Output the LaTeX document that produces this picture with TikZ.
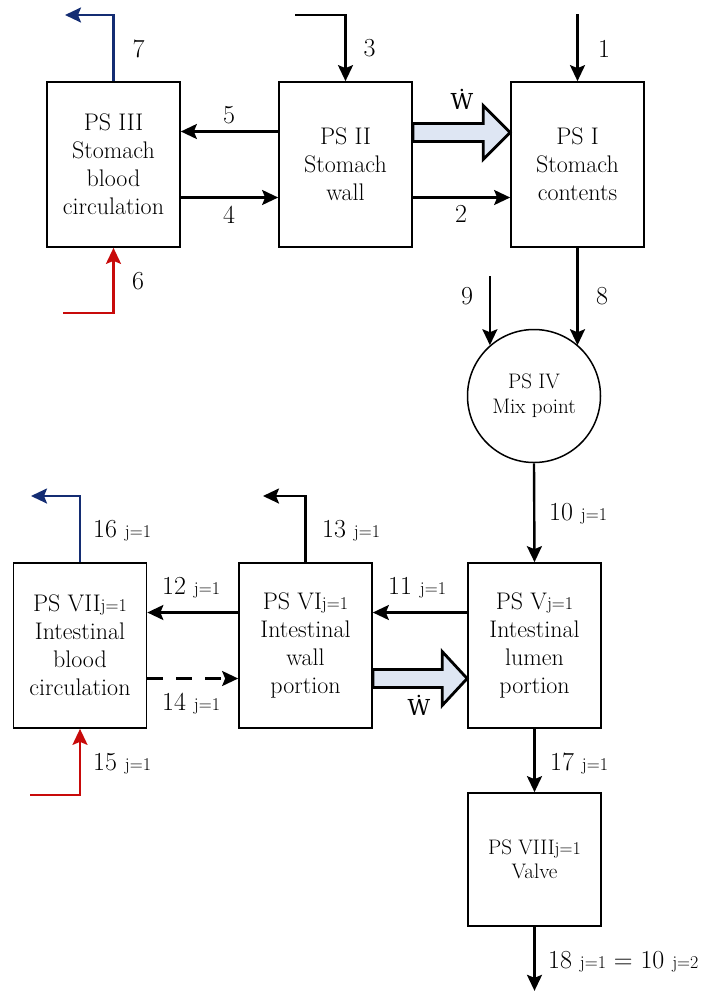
\documentclass[tikz,border=0pt]{standalone}
\usepackage{xcolor}
\usepackage{fontspec}
\newfontfamily\wfont{DejaVu Serif}
\definecolor{psblue}{RGB}{20,45,115}
\definecolor{psred}{RGB}{200,10,10}
\definecolor{psfill}{RGB}{222,230,243}
\usetikzlibrary{arrows.meta,positioning,calc}
\newcommand{\jidx}[1]{{\fontsize{18}{18}\selectfont j=#1}}

\begin{document}
\begin{tikzpicture}[x=1pt, y=-1pt,
    psbox/.style={draw, line width=1.7pt, minimum width=133pt, minimum height=165pt,
                inner sep=0pt, align=center, font=\fontsize{24}{28}\selectfont},
    mixnode/.style={draw, circle, line width=1.5pt, minimum size=133pt, inner sep=0pt,
                align=center, font=\fontsize{21}{25}\selectfont},
    num/.style={inner sep=0pt, font=\fontsize{26}{30}\selectfont},
    arr/.style={-{Stealth[length=16pt, width=15pt, inset=3pt]}, line width=2.4pt},
    workarr/.style={draw, line width=2.8pt, fill=psfill, line join=miter}
  ]
    \useasboundingbox (0,0) rectangle (714,991);

    % Stomach subsystems
    \node[psbox] (ps3) at (113.5,164.5) {PS III\\Stomach\\blood\\circulation};
    \node[psbox] (ps2) at (345.5,164.5) {PS II\\Stomach\\wall};
    \node[psbox] (ps1) at (577.5,164.5) {PS I\\Stomach\\contents};

    % Mix point
    \node[mixnode] (ps4) at (534,396) {PS IV\\Mix point};

    % Intestinal subsystems
    \node[psbox] (ps7) at (80,645.5)    {PS VII\jidx{1}\\Intestinal\\blood\\circulation};
    \node[psbox] (ps6) at (305.5,645.5) {PS VI\jidx{1}\\Intestinal\\wall\\portion};
    \node[psbox] (ps5) at (534.5,645.5) {PS V\jidx{1}\\Intestinal\\lumen\\portion};
    \node[psbox, minimum height=133pt, font=\fontsize{21}{24}\selectfont] (ps8) at (534.5,859.5)
      {PS VIII\jidx{1}\\Valve};

    % Stomach streams
    \coordinate (in1) at ([yshift=67pt]ps1.north);
    \draw[arr] (in1) -- (ps1.north);
    \coordinate (in3) at (295,15);
    \draw[arr] (in3) -| (ps2.north);
    \coordinate (out7) at (65,15);
    \draw[arr, psblue] (ps3.north) |- (out7);
    \draw[arr] ([yshift=33pt]ps2.west) -- ([yshift=33pt]ps3.east);
    \draw[arr] ([yshift=-33pt]ps3.east) -- ([yshift=-33pt]ps2.west);
    \draw[arr] ([yshift=-33pt]ps2.east) -- ([yshift=-33pt]ps1.west);
    \coordinate (in6) at (63,313);
    \draw[arr, psred] (in6) -| (ps3.south);

    % Work arrow, stomach
    \coordinate (w1a) at ([yshift=32pt]ps2.east);
    \coordinate (w1b) at ([yshift=32pt]ps1.west);
    \draw[workarr] ($(w1a)+(0,-9)$) -- ($(w1b)+(-27,-9)$) -- ($(w1b)+(-27,-27)$) -- (w1b)
      -- ($(w1b)+(-27,27)$) -- ($(w1b)+(-27,9)$) -- ($(w1a)+(0,9)$) -- cycle;

    % Into the mix point
    \coordinate (in9) at ([yshift=69pt]ps4.131);
    \draw[arr] (in9) -- (ps4.131);
    \draw[arr] (ps1.south) -- (ps1.south |- ps4.49);

    % Intestinal streams
    \draw[arr] (ps4.south) -- (ps5.north);
    \draw[arr] ([yshift=33pt]ps5.west) -- ([yshift=33pt]ps6.east);
    \draw[arr] ([yshift=33pt]ps6.west) -- ([yshift=33pt]ps7.east);
    \draw[arr, dash pattern=on 16pt off 13pt] ([yshift=-33pt]ps7.east) -- ([yshift=-33pt]ps6.west);
    \coordinate (out13) at (263,496);
    \draw[arr] (ps6.north) |- (out13);
    \coordinate (out16) at (31,496);
    \draw[arr, psblue] (ps7.north) |- (out16);
    \coordinate (in15) at (30,795);
    \draw[arr, psred] (in15) -| (ps7.south);
    \draw[arr] (ps5.south) -- (ps8.north);
    \coordinate (out18) at ([yshift=-64pt]ps8.south);
    \draw[arr] (ps8.south) -- (out18);

    % Work arrow, intestine
    \coordinate (w2a) at ([yshift=-33pt]ps6.east);
    \coordinate (w2b) at ([yshift=-33pt]ps5.west);
    \draw[workarr] ($(w2a)+(0,-9)$) -- ($(w2b)+(-25,-9)$) -- ($(w2b)+(-25,-27)$) -- (w2b)
      -- ($(w2b)+(-25,27)$) -- ($(w2b)+(-25,9)$) -- ($(w2a)+(0,9)$) -- cycle;

    % Stream numbers
    \node[num] (n7) at (138.5,48.5) {7};
    \node[num] (n3) at (369.5,48.5) {3};
    \node[num] (n1) at (604,48.5)   {1};
    \node[num] (n5) at (229,115)    {5};
    \node[num] (n4) at (229,215)    {4};
    \node[num, font=\wfont\fontsize{22}{26}\selectfont] (w1) at (462,99) {Ẇ};
    \node[num] (n2) at (461,214)    {2};
    \node[num] (n6) at (138,281)    {6};
    \node[num] (n9) at (467,296)    {9};
    \node[num] (n8) at (602,296)    {8};
    \node[num, anchor=base west] (n10) at (549,520) {10 \jidx{1}};
    \node[num, anchor=base west] (n16) at (93,537)  {16 \jidx{1}};
    \node[num, anchor=base west] (n13) at (322,537) {13 \jidx{1}};
    \node[num, anchor=base west] (n12) at (162,594) {12 \jidx{1}};
    \node[num, anchor=base west] (n11) at (388,594) {11 \jidx{1}};
    \node[num, anchor=base west] (n14) at (162,710) {14 \jidx{1}};
    \node[num, font=\wfont\fontsize{22}{26}\selectfont] (w2) at (419,705) {Ẇ};
    \node[num, anchor=base west] (n15) at (93,770)  {15 \jidx{1}};
    \node[num, anchor=base west] (n17) at (550,770) {17 \jidx{1}};
    \node[num, anchor=base west] (n18) at (548,968) {18 \jidx{1} = 10 \jidx{2}};
  \end{tikzpicture}
\end{document}
